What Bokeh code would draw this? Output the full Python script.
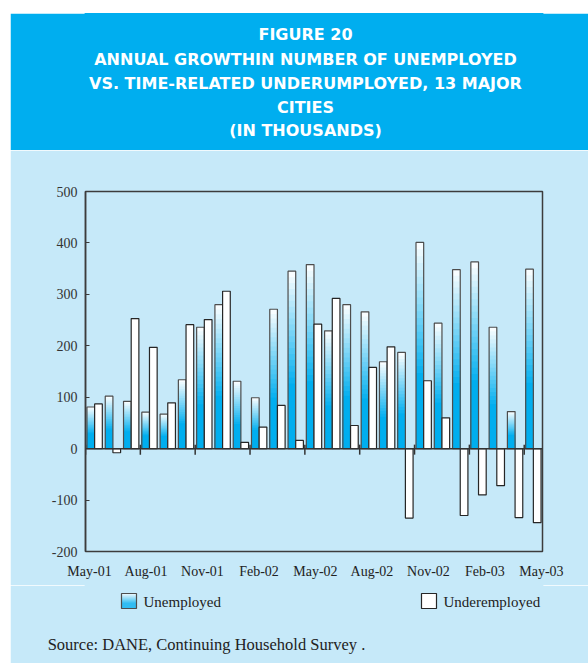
import numpy as np
from bokeh.core.properties import value
from bokeh.embed import file_html
from bokeh.layouts import column, row
from bokeh.models import FixedTicker, PrintfTickFormatter, Range1d, Spacer, Span
from bokeh.plotting import figure
from bokeh.resources import INLINE

# Annual change in thousands of persons, one value per month May-01 .. May-03
unemployed = [81, 102, 92, 71, 67, 134, 236, 280, 131, 99, 271, 345, 358,
              229, 280, 266, 169, 187, 401, 244, 348, 363, 236, 72, 349]
underemployed = [87, -8, 253, 197, 89, 241, 251, 306, 12, 42, 84, 16, 242,
                 292, 45, 158, 198, -135, 132, 60, -130, -90, -72, -134, -144]
tick_labels = ["May-01", "Aug-01", "Nov-01", "Feb-02", "May-02",
               "Aug-02", "Nov-02", "Feb-03", "May-03"]
y_ticks = [-200, -100, 0, 100, 200, 300, 400, 500]
series_names = ["Unemployed", "Underemployed"]
title_lines = [
    "FIGURE 20",
    "ANNUAL GROWTHIN NUMBER OF UNEMPLOYED",
    "VS. TIME-RELATED UNDERUMPLOYED, 13 MAJOR",
    "CITIES",
    "(IN THOUSANDS)",
]
source_note = "Source: DANE, Continuing Household Survey ."

PAGE_W, PAGE_H = 588, 663
MARGIN_L, MARGIN_T = 10, 13          # white page margin left of / above the figure
W = PAGE_W - MARGIN_L
BAND_B, CHART_B = 150, 585           # page rows where the band and the chart end
FRAME_L, FRAME_R = 85, 542           # the column lines up all three frames on these
BAND = "#00AEEF"
PALE = "#C6E9F9"
CYAN = np.array([0, 174, 239])
SERIF = "Liberation Serif"
N_SLICES = 30


def gradient_color(frac):
    """Cyan at the foot of a bar, fading to white towards its top."""
    t = float(np.clip((frac - 0.35) / 0.65, 0, 1))
    rgb = CYAN * (1 - t) + 255 * t
    return "#%02x%02x%02x" % tuple(int(round(c)) for c in rgb)


def strip_figure(fill, y_top, y_bottom, frame_bottom, **kw):
    """A page strip whose data coordinates are page pixels."""
    f = figure(width=W, height=y_bottom - y_top, x_range=Range1d(FRAME_L, FRAME_R),
               y_range=Range1d(frame_bottom, y_top), y_axis_type=None,
               output_backend="svg", toolbar_location=None,
               min_border_left=FRAME_L - MARGIN_L, min_border_right=PAGE_W - FRAME_R,
               min_border_top=0, min_border_bottom=y_bottom - frame_bottom,
               outline_line_color=fill, outline_line_width=2,
               background_fill_color=fill, border_fill_color=fill, **kw)
    f.grid.visible = False
    return f


# ---- title band ----------------------------------------------------------
header = strip_figure(BAND, MARGIN_T, BAND_B, BAND_B, x_axis_type=None)
header.text(x=[305] * len(title_lines), y=[34, 59, 83, 107, 130], text=title_lines,
            text_font=value("DejaVu Sans"), text_font_style="bold",
            text_font_size="16px", text_color="white",
            text_align="center", text_baseline="middle")

# ---- chart -------------------------------------------------------------
n = len(unemployed)
bar_w = 0.42
x_mid = np.arange(n) + 0.5
x_unemp = x_mid - bar_w / 2
x_under = x_mid + bar_w / 2
frame_t, frame_b = 191, 551

p = figure(width=W, height=CHART_B - BAND_B, x_range=Range1d(0, n),
           y_range=Range1d(-200, 500), output_backend="svg", toolbar_location=None,
           min_border_left=FRAME_L - MARGIN_L, min_border_right=PAGE_W - FRAME_R,
           min_border_top=frame_t - BAND_B, min_border_bottom=CHART_B - frame_b,
           background_fill_color=PALE, border_fill_color=PALE,
           outline_line_color="#3c3c3c", outline_line_width=1.5)
p.grid.visible = False

# gradient fill: overlapping slices from the tallest (whitest) down to the shortest
sl_x, sl_top, sl_color = [], [], []
for k in range(N_SLICES - 1, -1, -1):
    for xi, v in zip(x_unemp, unemployed):
        sl_x.append(xi)
        sl_top.append(v * (k + 1) / N_SLICES)
        sl_color.append(gradient_color((k + 0.5) / N_SLICES))
p.vbar(x=sl_x, top=sl_top, bottom=0, width=bar_w, fill_color=sl_color, line_color=None)
p.vbar(x=x_unemp, top=unemployed, bottom=0, width=bar_w, fill_color=None,
       line_color="#4d4d4d", line_width=1.2)
p.vbar(x=x_under, top=underemployed, bottom=0, width=bar_w, fill_color="white",
       line_color="#262626", line_width=1.2)

p.add_layout(Span(location=0, dimension="width", line_color="#333333", line_width=1.5))

# quarter tick marks sit on the zero line
units_per_px = 700 / (frame_b - frame_t)
tick_pos = np.arange(0, n, 3)
p.segment(x0=tick_pos, y0=4 * units_per_px, x1=tick_pos, y1=-6 * units_per_px,
          line_color="#333333", line_width=1.5)

yaxis = p.yaxis[0]
yaxis.ticker = FixedTicker(ticks=y_ticks)
yaxis.formatter = PrintfTickFormatter(format="%d")
yaxis.major_tick_in = 4
yaxis.major_tick_out = 0
yaxis.minor_tick_line_color = None
yaxis.axis_line_color = "#3c3c3c"
yaxis.axis_line_width = 1.5
yaxis.major_tick_line_color = "#3c3c3c"
yaxis.major_label_text_font = SERIF
yaxis.major_label_text_font_size = "14px"
yaxis.major_label_text_color = "#333333"
yaxis.major_label_standoff = 8

# the month labels are spread slightly wider than the ticks in the original
label_pos = [round(float(t) * 1.03 + 0.22, 2) for t in tick_pos]
xaxis = p.xaxis[0]
xaxis.ticker = FixedTicker(ticks=label_pos)
xaxis.major_label_overrides = dict(zip(label_pos, tick_labels))
xaxis.major_tick_in = 0
xaxis.major_tick_out = 0
xaxis.minor_tick_line_color = None
xaxis.axis_line_color = None
xaxis.major_label_text_font = SERIF
xaxis.major_label_text_font_size = "14px"
xaxis.major_label_text_color = "#222222"
xaxis.major_label_standoff = 12

# ---- legend and source note (page pixels below the chart) ----------------
footer = strip_figure(PALE, CHART_B, PAGE_H, 630)

sw_top, sw_bot = 593, 608
sw_left = [121, 421]
sw_edges = np.linspace(sw_bot, sw_top, N_SLICES + 1)
footer.quad(left=sw_left[0], right=sw_left[0] + 15, bottom=sw_edges[:-1], top=sw_edges[1:],
            fill_color=[gradient_color((k + 0.5) / N_SLICES) for k in range(N_SLICES)],
            line_color=None)
footer.quad(left=sw_left[0], right=sw_left[0] + 15, bottom=sw_bot, top=sw_top,
            fill_color=None, line_color="#4d4d4d", line_width=1.2)
footer.quad(left=sw_left[1], right=sw_left[1] + 15, bottom=sw_bot, top=sw_top,
            fill_color="white", line_color="#262626", line_width=1.2)
footer.text(x=[s + 22 for s in sw_left], y=[601, 601], text=series_names,
            text_font=value(SERIF), text_font_size="15px", text_color="#222222",
            text_baseline="middle")

# the source line is carried by the strip's own axis so it may run past the frame
src_x = 206
fax = footer.xaxis[0]
fax.ticker = FixedTicker(ticks=[src_x])
fax.major_label_overrides = {src_x: source_note}
fax.major_tick_in = 0
fax.major_tick_out = 0
fax.minor_tick_line_color = None
fax.axis_line_color = None
fax.major_label_text_font = SERIF
fax.major_label_text_font_size = "16.5px"
fax.major_label_text_color = "#222222"
fax.major_label_standoff = 4

page = row(Spacer(width=MARGIN_L, height=PAGE_H),
           column(Spacer(width=W, height=MARGIN_T), header, p, footer, spacing=0),
           spacing=0)
open("out.html", "w").write(file_html(page, INLINE))
